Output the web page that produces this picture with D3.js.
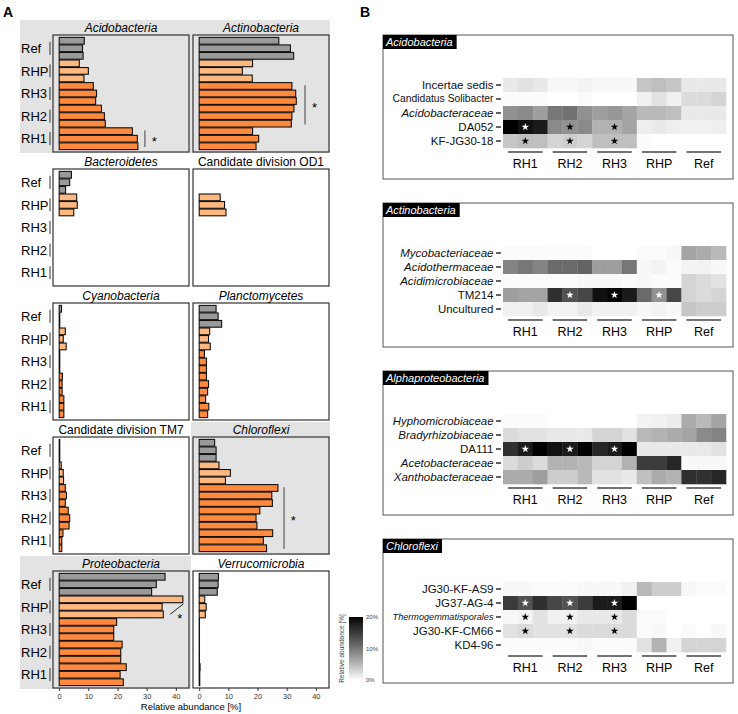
<!doctype html>
<html lang="en">
<head>
<meta charset="utf-8" />
<title>Relative abundance of phyla and families</title>
<script src="https://cdn.jsdelivr.net/npm/d3@7"></script>
<style>
	body { margin: 0; background: #fff; }
	svg { display: block; font-family: "Liberation Sans", Arial, sans-serif; }
</style>
</head>
<body>
<div id="chart"></div>
<script>
// ---- panel A data: 3 replicates per group, order Ref, RHP, RH3, RH2, RH1 (top to bottom)
const groupsA = ["Ref", "RHP", "RH3", "RH2", "RH1"];
const phyla = ["Acidobacteria", "Actinobacteria", "Bacteroidetes", "Candidate division OD1", "Cyanobacteria",
	"Planctomycetes", "Candidate division TM7", "Chloroflexi", "Proteobacteria", "Verrucomicrobia"];
const plainPhyla = ["Candidate division OD1", "Candidate division TM7"];
const significantPhyla = ["Acidobacteria", "Actinobacteria", "Chloroflexi", "Proteobacteria"];

const acidobacteria = [8.6, 8.0, 8.2, 6.9, 10.0, 8.5, 11.7, 12.8, 12.5, 14.5, 15.5, 15.8, 25.1, 26.8, 27.0];
const actinobacteria = [27.3, 31.3, 32.4, 18.3, 14.8, 18.2, 31.8, 33.1, 33.3, 32.5, 31.8, 31.6, 18.3, 20.4, 19.5];
const bacteroidetes = [4.2, 3.6, 2.2, 6.0, 6.2, 5.0, 0, 0, 0, 0, 0, 0, 0, 0, 0];
const od1 = [0, 0, 0, 7.2, 8.7, 9.2, 0, 0, 0, 0, 0, 0, 0, 0, 0];
const cyanobacteria = [0.8, 0.2, 0.2, 2.1, 1.4, 2.4, 0.2, 0.2, 0.2, 1.1, 1.0, 1.0, 1.6, 1.6, 1.6];
const planctomycetes = [5.8, 6.5, 7.7, 3.6, 3.2, 3.8, 1.8, 2.5, 2.5, 2.5, 3.2, 2.9, 2.2, 3.3, 2.9];
const tm7 = [0.2, 0.2, 0.2, 0.7, 1.4, 1.5, 2.1, 2.5, 2.1, 3.1, 3.6, 3.4, 1.3, 0.9, 0.9];
const chloroflexi = [5.3, 5.8, 5.8, 6.8, 10.7, 9.0, 27.0, 24.9, 25.1, 20.8, 19.5, 19.8, 25.2, 22.0, 23.1];
const proteobacteria = [36.3, 33.3, 31.7, 42.4, 35.3, 35.7, 19.7, 18.7, 18.7, 21.6, 21.1, 21.1, 23.0, 20.9, 22.0];
const verrucomicrobia = [6.6, 6.5, 6.2, 1.9, 2.4, 2.1, 0.1, 0.1, 0.1, 0.1, 0.1, 0.1, 0.3, 0.2, 0.2];
const phylumValues = [acidobacteria, actinobacteria, bacteroidetes, od1, cyanobacteria,
	planctomycetes, tm7, chloroflexi, proteobacteria, verrucomicrobia];

const xTicksA = [0, 10, 20, 30, 40];
// significance brackets: phylum, first and last group spanned, x position in %
const brackets = [
	{ phylum: "Acidobacteria", from: "RH1", to: "RH1", x: 29.4, star: 32.6 },
	{ phylum: "Actinobacteria", from: "RH3", to: "RH2", x: 36.3, star: 39.6 },
	{ phylum: "Chloroflexi", from: "RH3", to: "RH1", x: 29.1, star: 32.3 },
];
// slanted marker in Proteobacteria: from (x, bar index) to (x, bar index)
const slant = { phylum: "Proteobacteria", x1: 38, i1: 5.5, x2: 42.6, i2: 4.1, starX: 41.4, starI: 5.7 };

// ---- panel B data: columns RH1 x3, RH2 x3, RH3 x3, RHP x3, Ref x3
const groupsB = ["RH1", "RH2", "RH3", "RHP", "Ref"];
const heatPanels = ["Acidobacteria", "Actinobacteria", "Alphaproteobacteria", "Chloroflexi"];
const heatTaxa = [
	["Incertae sedis", "Candidatus Solibacter", "Acidobacteraceae", "DA052", "KF-JG30-18"],
	["Mycobacteriaceae", "Acidothermaceae", "Acidimicrobiaceae", "TM214", "Uncultured"],
	["Hyphomicrobiaceae", "Bradyrhizobiaceae", "DA111", "Acetobacteraceae", "Xanthobacteraceae"],
	["JG30-KF-AS9", "JG37-AG-4", "Thermogemmatisporales", "JG30-KF-CM66", "KD4-96"],
];
const italicTaxa = ["Acidobacteraceae", "Mycobacteriaceae", "Acidothermaceae", "Acidimicrobiaceae",
	"Hyphomicrobiaceae", "Bradyrhizobiaceae", "Acetobacteraceae", "Xanthobacteraceae", "Thermogemmatisporales"];
const heatValues = [
	[
		[1.5, 2.0, 1.5, 0.5, 0.5, 0.8, 0.5, 0.5, 0.5, 4.0, 4.5, 4.0, 1.5, 1.5, 1.5],
		[0.3, 0.3, 0.3, 0, 0, 0.3, 0, 0, 0, 1.0, 2.0, 1.0, 2.5, 2.5, 3.0],
		[8.0, 8.5, 7.0, 10.0, 10.5, 8.0, 7.0, 7.5, 6.5, 5.0, 5.0, 4.5, 1.5, 1.5, 1.5],
		[20, 19, 18, 8.5, 8.0, 8.5, 5.5, 5.5, 6.5, 1.2, 1.5, 1.2, 1.0, 1.0, 1.2],
		[4.0, 4.5, 4.5, 3.0, 3.5, 3.0, 4.5, 4.5, 4.5, 0.3, 0, 0, 0, 0, 0],
	],
	[
		[0.3, 0.3, 0.3, 0.2, 0.2, 0.3, 0, 0, 0, 0.3, 0.3, 0.5, 6.5, 6.0, 5.0],
		[9.0, 10.0, 9.0, 11.0, 11.0, 11.5, 7.0, 7.0, 10.0, 0.5, 0.8, 0.3, 0.8, 0.8, 0.5],
		[0.3, 0.3, 0.3, 0.3, 0.3, 0.5, 0.5, 0.5, 0.3, 0.5, 0.3, 0.3, 3.0, 2.5, 2.0],
		[7.0, 6.5, 6.5, 16, 13, 14, 19, 20, 18, 11, 8.0, 14, 3.0, 2.5, 3.0],
		[1.0, 1.0, 1.5, 0.8, 0.8, 1.5, 1.0, 1.0, 1.0, 0.5, 0.8, 0.5, 4.0, 3.5, 3.5],
	],
	[
		[0.3, 0.3, 0.3, 0, 0, 0, 0, 0, 0, 0.8, 1.0, 1.3, 6.0, 5.0, 6.5],
		[2.5, 2.0, 2.0, 1.5, 1.5, 1.5, 3.0, 3.0, 2.0, 5.0, 5.5, 6.0, 6.5, 8.5, 9.0],
		[16, 18, 20, 19, 18, 20, 17, 18, 20, 1.5, 1.5, 1.5, 1.5, 1.5, 2.0],
		[2.5, 3.5, 2.5, 5.5, 5.5, 5.0, 3.0, 3.0, 5.5, 15, 15, 17, 0.5, 0.5, 0.5],
		[6.0, 6.0, 7.0, 3.5, 3.5, 5.0, 2.0, 2.0, 1.5, 4.5, 6.0, 5.5, 16, 16, 17],
	],
	[
		[0.5, 0.5, 0.3, 0.3, 0.3, 0.5, 0.5, 0.5, 1.0, 5.0, 3.5, 3.5, 0.5, 0.3, 0.3],
		[15, 13, 16, 14, 13, 15, 18, 18, 20, 0, 0, 0, 0, 0, 0],
		[0.5, 0.8, 2.0, 1.0, 1.0, 1.5, 1.5, 1.5, 2.5, 0.3, 0.3, 0, 0, 0, 0],
		[2.0, 2.5, 2.0, 2.0, 2.0, 2.5, 2.5, 2.5, 2.5, 0.3, 0.5, 0, 0.3, 0, 0.5],
		[0.3, 0.3, 0.3, 0.3, 0.3, 0.5, 0.3, 0.3, 0.3, 2.0, 5.5, 1.0, 3.0, 3.0, 3.0],
	],
];
// stars: panel, taxon, group, star drawn in white
const heatStars = [
	["Acidobacteria", "DA052", "RH1", true], ["Acidobacteria", "DA052", "RH2", false], ["Acidobacteria", "DA052", "RH3", false],
	["Acidobacteria", "KF-JG30-18", "RH1", false], ["Acidobacteria", "KF-JG30-18", "RH2", false], ["Acidobacteria", "KF-JG30-18", "RH3", false],
	["Actinobacteria", "TM214", "RH2", true], ["Actinobacteria", "TM214", "RH3", true], ["Actinobacteria", "TM214", "RHP", true],
	["Alphaproteobacteria", "DA111", "RH1", true], ["Alphaproteobacteria", "DA111", "RH2", true], ["Alphaproteobacteria", "DA111", "RH3", true],
	["Chloroflexi", "JG37-AG-4", "RH1", true], ["Chloroflexi", "JG37-AG-4", "RH2", true], ["Chloroflexi", "JG37-AG-4", "RH3", true],
	["Chloroflexi", "Thermogemmatisporales", "RH1", false], ["Chloroflexi", "Thermogemmatisporales", "RH2", false], ["Chloroflexi", "Thermogemmatisporales", "RH3", false],
	["Chloroflexi", "JG30-KF-CM66", "RH1", false], ["Chloroflexi", "JG30-KF-CM66", "RH2", false], ["Chloroflexi", "JG30-KF-CM66", "RH3", false],
];
const legendTicks = [0, 10, 20];

const W = 738, H = 714;
const svg = d3.select("#chart").append("svg").attr("width", W).attr("height", H);

svg.append("text").attr("x", 3).attr("y", 17).attr("font-size", 14).attr("font-weight", "bold").text("A");
svg.append("text").attr("x", 360).attr("y", 17).attr("font-size", 14).attr("font-weight", "bold").text("B");

// ---------- panel A ----------
const groupColor = d3.scaleOrdinal(groupsA, ["#9a9a9a", "#ffb880", "#ff8a3d", "#ff8a3d", "#ff8a3d"]);
const xDomain = [-2.12, 44.52];
const colX = [[53, 189], [193, 329]];
const ROW_PITCH = 134, STRIP_H = 14, PANEL_H = 117;

phyla.forEach((phylum, i) => {
	const col = i % 2, row = Math.floor(i / 2);
	const values = phylumValues[i];
	const sig = significantPhyla.includes(phylum);
	const stripTop = 21 + row * ROW_PITCH;
	const top = stripTop + STRIP_H, bottom = top + PANEL_H;
	const x = d3.scaleLinear().domain(xDomain).range(colX[col]);
	const y = d3.scaleBand().domain(d3.range(15)).range([top + 2, bottom - 2]);
	const g = svg.append("g");

	if (sig) {
		g.append("rect")
			.attr("x", col ? 191 : 20).attr("width", col ? 139 : 171)
			.attr("y", stripTop - 1).attr("height", bottom - stripTop + 2)
			.attr("fill", "#e3e3e3");
	}
	g.append("rect")
		.attr("x", colX[col][0]).attr("y", top)
		.attr("width", colX[col][1] - colX[col][0]).attr("height", PANEL_H)
		.attr("fill", sig ? "#e3e3e3" : "#fff").attr("stroke", "#333").attr("stroke-width", 1.2);
	g.append("text")
		.attr("x", (colX[col][0] + colX[col][1]) / 2).attr("y", stripTop + 10.5)
		.attr("text-anchor", "middle").attr("font-size", 12)
		.attr("font-style", plainPhyla.includes(phylum) ? "normal" : "italic")
		.text(phylum);

	g.selectAll(".bar").data(values).join("rect")
		.attr("x", x(0))
		.attr("width", (d) => x(d) - x(0))
		.attr("y", (d, j) => y(j) + 0.4)
		.attr("height", y.bandwidth() - 0.8)
		.attr("fill", (d, j) => groupColor(groupsA[Math.floor(j / 3)]))
		.attr("stroke", "#111").attr("stroke-width", 1.1);

	const groupTop = (gName) => y(groupsA.indexOf(gName) * 3);
	const groupBot = (gName) => y(groupsA.indexOf(gName) * 3 + 2) + y.bandwidth();

	brackets.filter((b) => b.phylum === phylum).forEach((b) => {
		const y1 = groupTop(b.from) + 3, y2 = groupBot(b.to) - 3;
		g.append("line").attr("x1", x(b.x)).attr("x2", x(b.x)).attr("y1", y1).attr("y2", y2)
			.attr("stroke", "#444").attr("stroke-width", 1);
		g.append("text").attr("x", x(b.star)).attr("y", (y1 + y2) / 2 + 7)
			.attr("text-anchor", "middle").attr("font-size", 13).text("*");
	});
	if (slant.phylum === phylum) {
		const yi = (v) => y.range()[0] + v * y.step();
		g.append("line").attr("x1", x(slant.x1)).attr("y1", yi(slant.i1))
			.attr("x2", x(slant.x2)).attr("y2", yi(slant.i2))
			.attr("stroke", "#222").attr("stroke-width", 1);
		g.append("text").attr("x", x(slant.starX)).attr("y", yi(slant.starI) + 7)
			.attr("text-anchor", "middle").attr("font-size", 13).text("*");
	}

	if (col === 0) {
		groupsA.forEach((gName) => {
			const cy = (groupTop(gName) + groupBot(gName)) / 2;
			g.append("text").attr("x", 21).attr("y", cy).attr("dy", "0.36em")
				.attr("font-size", 13).text(gName);
			g.append("line").attr("x1", 50).attr("x2", 50).attr("y1", cy - 6.5).attr("y2", cy + 6.5)
				.attr("stroke", "#333").attr("stroke-width", 1);
		});
	}

	if (row === 4) {
		const ax = g.append("g").attr("transform", `translate(0,${bottom})`)
			.call(d3.axisBottom(x).tickValues(xTicksA).tickSize(3).tickSizeOuter(0).tickPadding(2.5));
		ax.select(".domain").remove();
		ax.selectAll("text").attr("font-size", 7.5).attr("fill", "#333").attr("font-family", null);
		ax.selectAll("line").attr("stroke", "#333");
	}
});

svg.append("text").attr("x", 191).attr("y", 710).attr("text-anchor", "middle")
	.attr("font-size", 9.5).text("Relative abundance [%]");

// ---------- panel B ----------
const heatColor = d3.scaleLinear().domain([0, 20]).range(["#ffffff", "#000000"])
	.interpolate(d3.interpolateLab).clamp(true);
const BOX_X = 383, BOX_W = 350, BOX_H = 144;
const LABEL_MAX = 101;
const cx = d3.scaleBand().domain(d3.range(15)).range([503, 726]);
const star = d3.symbol().type(d3.symbolStar).size(18);

heatPanels.forEach((panel, k) => {
	const top = 35 + k * 168;
	const taxa = heatTaxa[k];
	const g = svg.append("g");
	g.append("rect").attr("x", BOX_X).attr("y", top).attr("width", BOX_W).attr("height", BOX_H)
		.attr("fill", "#fff").attr("stroke", "#555").attr("stroke-width", 1);
	const title = g.append("text").attr("x", BOX_X + 3).attr("y", top + 10.5)
		.attr("font-size", 11).attr("font-style", "italic").attr("fill", "#fff").text(panel);
	const tw = title.node().getComputedTextLength();
	g.insert("rect", "text").attr("x", BOX_X).attr("y", top).attr("width", tw + 7).attr("height", 14)
		.attr("fill", "#000");

	const y = d3.scaleBand().domain(taxa).range([top + 43, top + 113]);
	const cells = [];
	taxa.forEach((t, r) => heatValues[k][r].forEach((v, c) => cells.push({ t, c, v })));
	g.selectAll(".cell").data(cells).join("rect")
		.attr("x", (d) => cx(d.c)).attr("y", (d) => y(d.t))
		.attr("width", cx.bandwidth() + 0.3).attr("height", y.bandwidth() + 0.3)
		.attr("fill", (d) => heatColor(d.v));

	const ay = g.append("g").attr("transform", "translate(501,0)")
		.call(d3.axisLeft(y).tickSize(5).tickPadding(2.5));
	ay.select(".domain").remove();
	ay.selectAll("line").attr("stroke", "#222").attr("stroke-width", 1.4);
	ay.selectAll("text").attr("font-size", 11.5).attr("fill", "#111").attr("font-family", null)
		.attr("font-style", (d) => italicTaxa.includes(d) ? "italic" : "normal")
		.each(function () {
			// long labels are squeezed to fit inside the box
			const len = this.getComputedTextLength();
			if (len > LABEL_MAX) d3.select(this).attr("font-size", 11.5 * LABEL_MAX / len);
		});

	groupsB.forEach((gName, gi) => {
		const gx0 = cx(gi * 3), gx1 = cx(gi * 3 + 2) + cx.bandwidth();
		g.append("line").attr("x1", gx0 + 5).attr("x2", gx1 - 5).attr("y1", top + 117).attr("y2", top + 117)
			.attr("stroke", "#444").attr("stroke-width", 1.6);
		g.append("text").attr("x", (gx0 + gx1) / 2).attr("y", top + 132.5)
			.attr("text-anchor", "middle").attr("font-size", 12.5).text(gName);
	});

	heatStars.filter((s) => s[0] === panel).forEach(([, taxon, gName, white]) => {
		const c = groupsB.indexOf(gName) * 3 + 1;
		g.append("path").attr("d", star)
			.attr("transform", `translate(${cx(c) + cx.bandwidth() / 2},${y(taxon) + y.bandwidth() / 2})`)
			.attr("fill", white ? "#fff" : "#000");
	});
});

// ---------- legend ----------
const ly = d3.scaleLinear().domain([0, 20]).range([680, 617]);
const grad = svg.append("defs").append("linearGradient").attr("id", "lg")
	.attr("x1", 0).attr("y1", 1).attr("x2", 0).attr("y2", 0);
d3.range(0, 21, 2).forEach((v) => grad.append("stop").attr("offset", v / 20).attr("stop-color", heatColor(v)));
svg.append("rect").attr("x", 349).attr("y", ly(20)).attr("width", 14).attr("height", ly(0) - ly(20))
	.attr("fill", "url(#lg)");
svg.selectAll(".lt").data(legendTicks).join("text")
	.attr("x", 366).attr("y", (d) => ly(d)).attr("dy", "0.35em")
	.attr("font-size", 6).attr("fill", "#444").text((d) => d + "%");
svg.append("text").attr("transform", `translate(344,${(ly(0) + ly(20)) / 2}) rotate(-90)`)
	.attr("text-anchor", "middle").attr("font-size", 6.5).attr("fill", "#444")
	.text("Relative abundance [%]");
</script>
</body>
</html>
